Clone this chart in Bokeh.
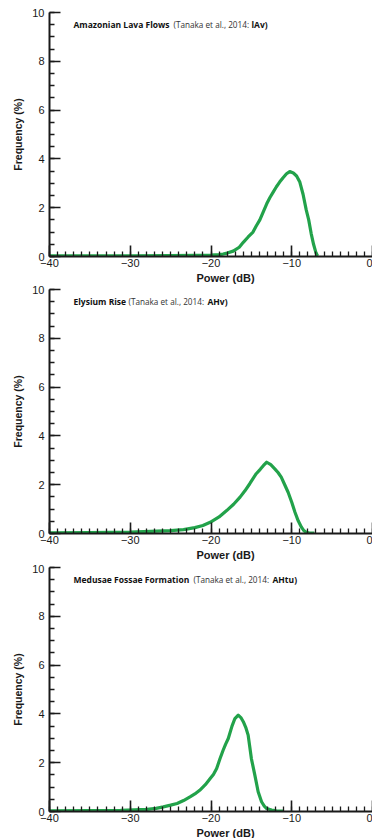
from bokeh.plotting import figure
from bokeh.layouts import column
from bokeh.models import FixedTicker, Label, Title, Range1d
from bokeh.embed import file_html
from bokeh.resources import INLINE

# ---------------- data ----------------
x_major = [-40, -30, -20, -10, 0]
x_minor = list(range(-40, 1))
y_major = [0, 2, 4, 6, 8, 10]
y_minor = [i * 0.5 for i in range(21)]

# Amazonian Lava Flows
amaz_x = [-40, -35, -30, -25, -22, -20, -19, -18.5, -18, -17.25, -16.5, -16.0, -15.4,
          -14.8, -14.4, -13.95, -13.5, -13.1, -12.7, -12.3, -11.9, -11.5, -11.1, -10.65,
          -10.25, -9.8, -9.4, -9.0, -8.6, -8.2, -7.9, -7.6, -7.3, -7.0, -6.8]
amaz_y = [0.03, 0.03, 0.03, 0.04, 0.05, 0.06, 0.08, 0.10, 0.14, 0.22, 0.38, 0.58, 0.80,
          1.00, 1.25, 1.50, 1.85, 2.16, 2.42, 2.64, 2.86, 3.05, 3.22, 3.39,
          3.48, 3.42, 3.30, 3.05, 2.55, 1.90, 1.50, 0.95, 0.50, 0.15, 0.02]

# Elysium Rise
elys_x = [-40, -35, -30, -27.5, -25, -23.4, -22, -21, -20.1, -19, -18.06, -17.2, -16.4,
          -15.8, -15.2, -14.8, -14.4, -13.9, -13.5, -13.1, -12.6, -12.1, -11.7, -11.3,
          -10.9, -10.45, -10.0, -9.6, -9.2, -8.8, -8.5, -8.2, -7.8, -7.2]
elys_y = [0.03, 0.04, 0.06, 0.09, 0.12, 0.16, 0.24, 0.33, 0.46, 0.68, 0.94, 1.20, 1.49,
          1.75, 2.04, 2.25, 2.45, 2.63, 2.79, 2.92, 2.82, 2.65, 2.50, 2.31,
          2.02, 1.69, 1.28, 0.87, 0.52, 0.26, 0.12, 0.05, 0.02, 0.02]

# Medusae Fossae Formation
medu_x = [-40, -35, -31.2, -29.5, -27.9, -26.8, -25.9, -25.0, -24.2, -23.4, -22.6, -22.0,
          -21.4, -20.7, -20.1, -19.7, -19.3, -18.9, -18.5, -18.2, -17.86, -17.4, -17.04,
          -16.63, -16.3, -16.0, -15.7, -15.4, -15.2, -15.0, -14.57, -14.16, -13.74, -13.4,
          -13.1, -12.5, -11.9, -11.0]
medu_y = [0.03, 0.04, 0.05, 0.07, 0.09, 0.13, 0.19, 0.26, 0.33, 0.45, 0.60, 0.72,
          0.87, 1.10, 1.35, 1.52, 1.76, 2.15, 2.51, 2.75, 2.99, 3.50, 3.81,
          3.95, 3.85, 3.68, 3.45, 3.13, 2.65, 2.17, 1.49, 0.81, 0.40, 0.22,
          0.12, 0.06, 0.03, 0.02]

panels = [
    ("Amazonian Lava Flows", "(Tanaka et al., 2014:", "lAv)", amaz_x, amaz_y, (100, 178)),
    ("Elysium Rise", "(Tanaka et al., 2014:", "AHv)", elys_x, elys_y, (55, 134)),
    ("Medusae Fossae Formation", "(Tanaka et al., 2014:", "AHtu)", medu_x, medu_y, (120, 199)),
]

GREEN = "#22a24a"
FONT = "Liberation Sans"
TFONT = "Open Sans"
minus = "\u2212"


def make_panel(name, ref, unit, xs, ys, offs, top, bottom):
    p = figure(frame_width=323, frame_height=244,
               x_range=Range1d(-40, 0), y_range=Range1d(0, 10),
               output_backend="svg", toolbar_location=None,
               min_border_left=49, min_border_right=0, min_border_top=top,
               min_border_bottom=bottom)
    p.outline_line_color = None
    p.background_fill_color = "white"
    p.border_fill_color = "white"
    p.xgrid.visible = False
    p.ygrid.visible = False

    p.line(xs, ys, line_color=GREEN, line_width=3.2, line_join="round")

    for ax, major, minor in ((p.xaxis[0], x_major, x_minor), (p.yaxis[0], y_major, y_minor)):
        ax.ticker = FixedTicker(ticks=major, minor_ticks=minor)
        ax.axis_line_width = 2
        ax.axis_line_color = "#1a1a1a"
        ax.major_tick_line_width = 1.6
        ax.minor_tick_line_width = 1.3
        ax.major_tick_line_color = "#1a1a1a"
        ax.minor_tick_line_color = "#1a1a1a"
        ax.major_tick_in = 11
        ax.major_tick_out = 0
        ax.minor_tick_in = 5
        ax.minor_tick_out = 0
        ax.major_label_text_font = FONT
        ax.major_label_text_font_size = "11px"
        ax.major_label_text_color = "#1a1a1a"

    p.xaxis[0].major_label_overrides = {v: (minus + str(-v) if v < 0 else str(v)) for v in x_major}
    p.xaxis[0].major_label_standoff = 2
    p.yaxis[0].major_label_standoff = 5
    p.yaxis[0].axis_label = "Frequency (%)"
    p.yaxis[0].axis_label_text_font = FONT
    p.yaxis[0].axis_label_text_font_size = "10.5px"
    p.yaxis[0].axis_label_text_font_style = "bold"
    p.yaxis[0].axis_label_text_color = "#1a1a1a"
    p.yaxis[0].axis_label_standoff = 5

    xt = Title(text="Power (dB)", align="left", offset=147, standoff=0,
               text_font=FONT, text_font_size="11px", text_font_style="bold",
               text_color="#1a1a1a")
    p.add_layout(xt, "below")

    x0 = -40 + 24 / 8.075
    common = dict(x=x0, y=9.5, text_baseline="middle", text_align="left",
                  text_font=TFONT)
    p.add_layout(Label(text=name, text_font_style="bold", text_color="#111111",
                       text_font_size="8.5px", **common))
    p.add_layout(Label(text=ref, x_offset=offs[0], text_color="#333333",
                       text_font_size="8.2px", **common))
    p.add_layout(Label(text=unit, x_offset=offs[1], text_font_style="bold", text_color="#111111",
                       text_font_size="8.5px", **common))
    return p


figs = []
tops = [12, 4, 3]
bottoms = [29, 31, 24]
for (name, ref, unit, xs, ys, offs), t, b in zip(panels, tops, bottoms):
    figs.append(make_panel(name, ref, unit, xs, ys, offs, t, b))

layout = column(*figs, spacing=0)
open("out.html", "w").write(file_html(layout, INLINE))
